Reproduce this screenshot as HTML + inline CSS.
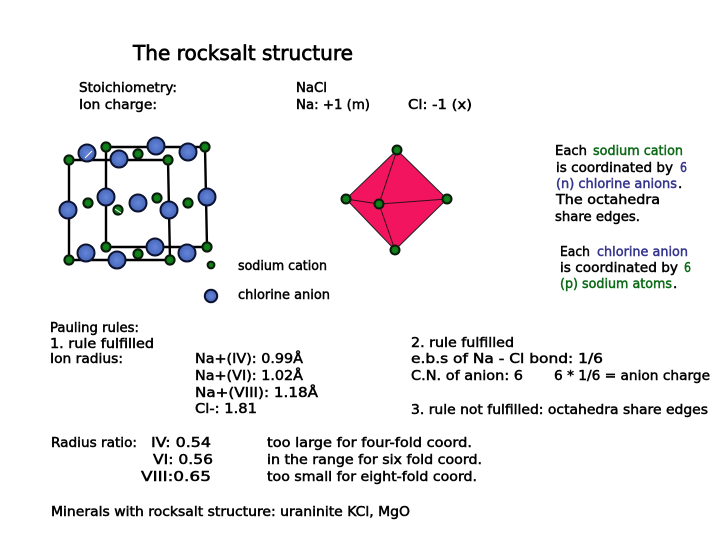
<!DOCTYPE html>
<html>
<head>
<meta charset="utf-8">
<style>
html,body{margin:0;padding:0;background:#fff;width:720px;height:540px;overflow:hidden}
svg{display:block}
text{font-family:"DejaVu Sans","Liberation Sans",sans-serif;font-size:13.5px;fill:#000;stroke:#000;stroke-width:.5}
.g{fill:#0b6a16;stroke:#0b6a16}
.b{fill:#34348c;stroke:#34348c}
</style>
</head>
<body>
<svg width="720" height="540" viewBox="0 0 720 540" xmlns="http://www.w3.org/2000/svg">
<defs>
<radialGradient id="bl" cx="50%" cy="50%" r="60%"><stop offset="0" stop-color="#6485d8"/><stop offset="1" stop-color="#3f5fb2"/></radialGradient>
<radialGradient id="gr" cx="50%" cy="50%" r="60%"><stop offset="0" stop-color="#128a1c"/><stop offset="1" stop-color="#0b6a14"/></radialGradient>
</defs>

<g fill="none" stroke="#000" stroke-width="2.4">
<path d="M69 160L168 160L170 260L69 260Z"/>
<path d="M106 147L205 147L207 247L106 247Z"/>
</g>

<g fill="url(#gr)" stroke="#0a1a0a" stroke-width="2">
<circle cx="69" cy="160" r="4.6"/><circle cx="106" cy="147" r="4.6"/><circle cx="168" cy="160" r="4.6"/><circle cx="205" cy="147" r="4.6"/>
<circle cx="69" cy="260" r="4.6"/><circle cx="106" cy="247" r="4.6"/><circle cx="170" cy="260" r="4.6"/><circle cx="207" cy="247" r="4.6"/>
<circle cx="138" cy="154" r="4.6"/><circle cx="88" cy="203" r="4.6"/><circle cx="118" cy="210" r="4.6"/><circle cx="157" cy="198" r="4.6"/><circle cx="188" cy="203" r="4.6"/><circle cx="138" cy="254" r="4.6"/>
<circle cx="211" cy="265" r="3.4"/>
</g>
<g fill="url(#bl)" stroke="#0c1230" stroke-width="2">
<circle cx="87" cy="153" r="8.5"/><circle cx="156" cy="146" r="8.5"/><circle cx="188" cy="152" r="8.5"/><circle cx="119" cy="159" r="8.5"/>
<circle cx="68" cy="210" r="8.5"/><circle cx="106" cy="197" r="8.5"/><circle cx="138" cy="203" r="8.5"/><circle cx="169" cy="210" r="8.5"/><circle cx="207" cy="197" r="8.5"/>
<circle cx="86" cy="253" r="8.5"/><circle cx="155" cy="247" r="8.5"/><circle cx="187" cy="253" r="8.5"/><circle cx="117" cy="260" r="8.5"/>
<circle cx="211" cy="296" r="6.2"/>
</g>
<path d="M85 158L92 151M115 209L121 213" stroke="#fff" stroke-width="1" fill="none"/>

<path d="M397 150L447 199L395 250L346 199Z" fill="#f2145f" stroke="#222" stroke-width="1"/>
<g fill="none" stroke="#301018" stroke-width="1">
<path d="M397 150L379 204L395 250M346 199L379 204L447 199"/>
</g>
<g fill="url(#gr)" stroke="#0a1a0a" stroke-width="2">
<circle cx="397" cy="150" r="4.5"/><circle cx="346" cy="199" r="4.5"/><circle cx="447" cy="199" r="4.5"/><circle cx="395" cy="250" r="4.5"/><circle cx="379" cy="204" r="4.5"/>
</g>

<text x="133" y="60" textLength="220" lengthAdjust="spacingAndGlyphs" style="font-size:20px;stroke-width:.7">The rocksalt structure</text>

<text x="79" y="92" textLength="98" lengthAdjust="spacingAndGlyphs">Stoichiometry:</text>
<text x="79" y="109" textLength="78" lengthAdjust="spacingAndGlyphs">Ion charge:</text>
<text x="296" y="92" textLength="31" lengthAdjust="spacingAndGlyphs">NaCl</text>
<text x="296" y="109" textLength="74" lengthAdjust="spacingAndGlyphs">Na: +1 (m)</text>
<text x="408" y="109" textLength="64" lengthAdjust="spacingAndGlyphs">Cl: -1 (x)</text>

<text x="555" y="155" textLength="32" lengthAdjust="spacingAndGlyphs">Each</text>
<text class="g" x="593" y="155" textLength="90" lengthAdjust="spacingAndGlyphs">sodium cation</text>
<text x="556" y="172" textLength="117" lengthAdjust="spacingAndGlyphs">is coordinated by</text>
<text class="b" x="680" y="172" textLength="7" lengthAdjust="spacingAndGlyphs">6</text>
<text class="b" x="556" y="188" textLength="121" lengthAdjust="spacingAndGlyphs">(n) chlorine anions</text>
<text x="678" y="188">.</text>
<text x="556" y="204" textLength="104" lengthAdjust="spacingAndGlyphs">The  octahedra</text>
<text x="555" y="221" textLength="85" lengthAdjust="spacingAndGlyphs">share edges.</text>

<text x="560" y="256" textLength="30" lengthAdjust="spacingAndGlyphs">Each</text>
<text class="b" x="597" y="256" textLength="91" lengthAdjust="spacingAndGlyphs">chlorine anion</text>
<text x="560" y="272" textLength="118" lengthAdjust="spacingAndGlyphs">is coordinated by</text>
<text class="g" x="684" y="272" textLength="7" lengthAdjust="spacingAndGlyphs">6</text>
<text class="g" x="560" y="288" textLength="112" lengthAdjust="spacingAndGlyphs">(p) sodium atoms</text>
<text x="673" y="288">.</text>

<text x="238" y="270" textLength="89" lengthAdjust="spacingAndGlyphs">sodium cation</text>
<text x="238" y="299" textLength="92" lengthAdjust="spacingAndGlyphs">chlorine anion</text>

<text x="50" y="332" textLength="89" lengthAdjust="spacingAndGlyphs">Pauling rules:</text>
<text x="50" y="348" textLength="104" lengthAdjust="spacingAndGlyphs">1. rule fulfilled</text>
<text x="50" y="363" textLength="73" lengthAdjust="spacingAndGlyphs">Ion radius:</text>
<text x="195" y="363" textLength="108" lengthAdjust="spacingAndGlyphs">Na+(IV): 0.99Å</text>
<text x="195" y="380" textLength="108" lengthAdjust="spacingAndGlyphs">Na+(VI): 1.02Å</text>
<text x="195" y="397" textLength="123" lengthAdjust="spacingAndGlyphs">Na+(VIII): 1.18Å</text>
<text x="195" y="413" textLength="62" lengthAdjust="spacingAndGlyphs">Cl-: 1.81</text>

<text x="411" y="347" textLength="103" lengthAdjust="spacingAndGlyphs">2. rule fulfilled</text>
<text x="411" y="363" textLength="192" lengthAdjust="spacingAndGlyphs">e.b.s of Na - Cl bond:  1/6</text>
<text x="411" y="380" textLength="112" lengthAdjust="spacingAndGlyphs">C.N. of anion: 6</text>
<text x="554" y="380" textLength="156" lengthAdjust="spacingAndGlyphs">6 * 1/6 = anion charge</text>
<text x="411" y="414" textLength="297" lengthAdjust="spacingAndGlyphs">3. rule not fulfilled: octahedra share edges</text>

<text x="51" y="447" textLength="86" lengthAdjust="spacingAndGlyphs">Radius ratio:</text>
<text x="151" y="447" textLength="60" lengthAdjust="spacingAndGlyphs">IV: 0.54</text>
<text x="153" y="464" textLength="60" lengthAdjust="spacingAndGlyphs">VI: 0.56</text>
<text x="141" y="481" textLength="70" lengthAdjust="spacingAndGlyphs">VIII:0.65</text>
<text x="267" y="447" textLength="205" lengthAdjust="spacingAndGlyphs">too large for four-fold coord.</text>
<text x="267" y="464" textLength="215" lengthAdjust="spacingAndGlyphs">in the range for six fold coord.</text>
<text x="267" y="481" textLength="210" lengthAdjust="spacingAndGlyphs">too small for eight-fold coord.</text>
<text x="51" y="516" textLength="359" lengthAdjust="spacingAndGlyphs">Minerals with rocksalt structure: uraninite KCl, MgO</text>
</svg>
</body>
</html>
